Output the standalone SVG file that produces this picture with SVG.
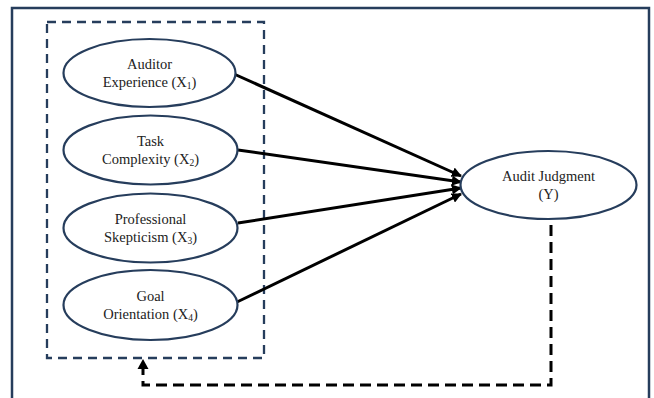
<svg xmlns="http://www.w3.org/2000/svg" width="654" height="398" viewBox="0 0 654 398">
<defs>
<style>
.frame{fill:none;stroke:#263d5c;stroke-width:2.5}
.group{fill:none;stroke:#263d5c;stroke-width:2.3;stroke-dasharray:9 6}
.node ellipse{fill:#ffffff;stroke:#263d5c;stroke-width:2.2}
.node text{font-family:"Liberation Serif","Times New Roman",serif;font-size:14.5px;fill:#222;text-anchor:middle}
.sub{font-size:9.5px}
.arrow{fill:none;stroke:#000;stroke-width:3}
.fb{fill:none;stroke:#000;stroke-width:3;stroke-dasharray:11 6}
</style>
<marker id="ah" viewBox="0 0 10 10" refX="9" refY="5" markerWidth="3.4" markerHeight="3.4" orient="auto" markerUnits="strokeWidth">
<path d="M0,0 L10,5 L0,10 z" fill="#000"/>
</marker>
</defs>
<rect x="0" y="0" width="654" height="398" fill="#fff"/>
<rect class="frame" x="12" y="8" width="637" height="420"/>
<rect class="group" x="47" y="22" width="217" height="336"/>
<g id="connectors">
<line class="arrow" x1="234" y1="74" x2="461" y2="176" marker-end="url(#ah)"/>
<line class="arrow" x1="238" y1="150" x2="461" y2="182" marker-end="url(#ah)"/>
<line class="arrow" x1="238" y1="223" x2="461" y2="188" marker-end="url(#ah)"/>
<line class="arrow" x1="237" y1="302" x2="461" y2="194" marker-end="url(#ah)"/>
<path class="fb" d="M551,225 L551,385 L143,385 L143,368"/>
<path d="M137.5,369 L143,359 L148.5,369 z" fill="#000"/>
</g>
<g id="x1" class="node">
<ellipse cx="149.5" cy="73" rx="86" ry="34"/>
<text x="149.5" y="69">Auditor</text>
<text x="149.5" y="87">Experience (X<tspan class="sub" dy="2">1</tspan><tspan dy="-2">)</tspan></text>
</g>
<g id="x2" class="node">
<ellipse cx="150.5" cy="150" rx="87" ry="34.5"/>
<text x="150.5" y="146">Task</text>
<text x="150.5" y="164">Complexity (X<tspan class="sub" dy="2">2</tspan><tspan dy="-2">)</tspan></text>
</g>
<g id="x3" class="node">
<ellipse cx="150.5" cy="228" rx="87" ry="34.5"/>
<text x="150.5" y="224">Professional</text>
<text x="150.5" y="242">Skepticism (X<tspan class="sub" dy="2">3</tspan><tspan dy="-2">)</tspan></text>
</g>
<g id="x4" class="node">
<ellipse cx="150.5" cy="305" rx="87" ry="35"/>
<text x="150.5" y="301">Goal</text>
<text x="150.5" y="319">Orientation (X<tspan class="sub" dy="2">4</tspan><tspan dy="-2">)</tspan></text>
</g>
<g id="y" class="node">
<ellipse cx="548.5" cy="185" rx="88" ry="34"/>
<text x="548.5" y="181">Audit Judgment</text>
<text x="548.5" y="199">(Y)</text>
</g>
</svg>
